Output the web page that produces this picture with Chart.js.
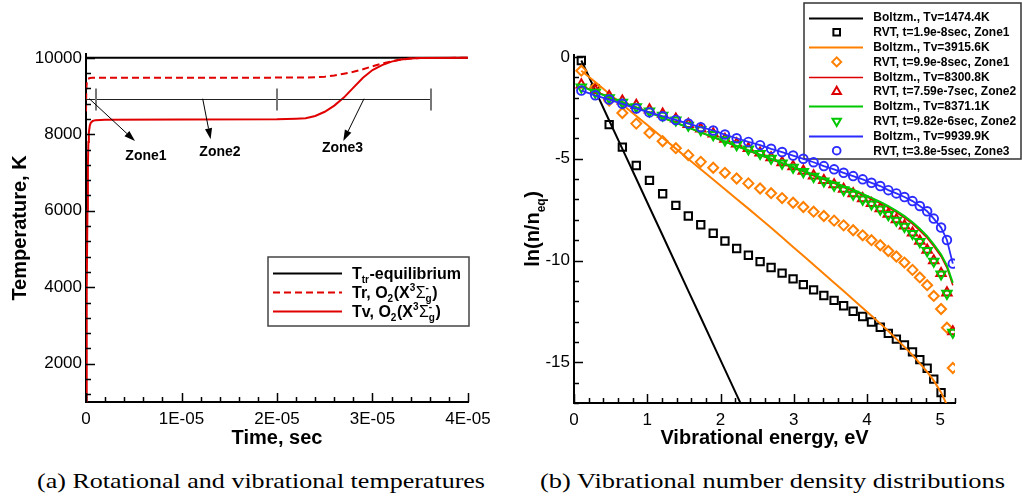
<!DOCTYPE html>
<html>
<head>
<meta charset="utf-8">
<script src="https://cdn.jsdelivr.net/npm/chart.js@4.4.0/dist/chart.umd.min.js"></script>
<style>
  body { margin: 0; background: #fff; width: 1022px; height: 498px; overflow: hidden; position: relative; }
  canvas { position: absolute; top: 0; }
  #tempChart { left: 0; }
  #distChart { left: 511px; }
  .cap { position: absolute; top: 468px; font-family: "Liberation Serif", "Times New Roman", serif; font-size: 22px;
         white-space: nowrap; transform-origin: left center; color: #000; }
</style>
</head>
<body>
<canvas id="tempChart" width="511" height="460"></canvas>
<canvas id="distChart" width="511" height="460"></canvas>
<div class="cap" id="capA">(a) Rotational and vibrational temperatures</div>
<div class="cap" id="capB">(b) Vibrational number density distributions</div>
<script>
// ---------- panel (a): temperatures vs time ----------
const eqTime = [0, 4e-5];
const eqTemp = [10000, 10000];

const trTime = [0, 2e-8, 5e-8, 1e-7, 2e-7, 4e-7, 7e-7, 1e-5, 2.3e-5, 2.5e-5, 2.6e-5, 2.7e-5, 2.8e-5, 2.9e-5,
                3.0e-5, 3.1e-5, 3.2e-5, 3.3e-5, 3.4e-5, 3.5e-5, 4e-5];
const trTemp = [8600, 9000, 9250, 9400, 9450, 9470, 9478, 9480, 9483, 9505, 9540, 9585, 9635, 9700,
                9780, 9850, 9910, 9955, 9982, 9995, 10000];

const tvTime = [0, 5e-8, 1e-7, 1.5e-7, 2e-7, 2.5e-7, 3e-7, 4e-7, 5e-7, 7e-7, 1e-6, 2e-6, 1e-5, 2e-5, 2.2e-5,
                2.3e-5, 2.4e-5, 2.5e-5, 2.6e-5, 2.7e-5, 2.8e-5, 2.9e-5, 3.0e-5, 3.1e-5, 3.2e-5, 3.3e-5,
                3.4e-5, 3.5e-5, 4e-5];
const tvTemp = [300, 1500, 4000, 6000, 7200, 7800, 8050, 8230, 8300, 8350, 8370, 8380, 8385, 8395, 8410,
                8420, 8480, 8590, 8750, 8960, 9220, 9480, 9680, 9810, 9900, 9955,
                9985, 9997, 10000];

const timeTicks = [0, 1e-5, 2e-5, 3e-5, 4e-5];
const timeTickLabels = ['0', '1E-05', '2E-05', '3E-05', '4E-05'];
const tempTicks = [2000, 4000, 6000, 8000, 10000];

// zone bar and arrow annotations (data units: seconds, K)
const zoneBarSpan = [0, 3.61e-5];
const zoneBarTemp = 8930;
const zoneMarks = [1e-6, 2.0e-5, 3.61e-5];
const zoneNames = ['Zone1', 'Zone2', 'Zone3'];
const zoneArrowFrom = [[3.5e-7, 8930], [1.222e-5, 8930], [2.911e-5, 8930]];
const zoneArrowTo = [[5.13e-6, 7824], [1.305e-5, 7869], [2.694e-5, 7824]];
const zoneLabelAt = [[6.28e-6, 7425], [1.403e-5, 7522], [2.686e-5, 7626]];

// ---------- panel (b): vibrational distributions ----------
const energy = [0.10, 0.29, 0.48, 0.66, 0.85, 1.03, 1.21, 1.39, 1.56, 1.73, 1.90, 2.06, 2.22, 2.38, 2.54,
                2.69, 2.84, 2.99, 3.13, 3.27, 3.41, 3.55, 3.68, 3.81, 3.94, 4.06, 4.18, 4.29, 4.40, 4.51,
                4.62, 4.72, 4.82, 4.91, 5.01, 5.09, 5.17];

const boltz1474 = [-0.17, -1.64, -3.12, -4.51, -5.98, -7.38, -8.77, -10.17, -11.49, -12.80, -14.12, -15.36,
                   -16.60, -17.84];
const rvt19e8 = [-0.17, -1.55, -3.32, -4.43, -5.33, -6.06, -6.72, -7.29, -7.81, -8.24, -8.66, -9.04, -9.41,
                 -9.74, -10.05, -10.34, -10.62, -10.90, -11.18, -11.44, -11.72, -11.96, -12.22, -12.49,
                 -12.75, -13.02, -13.28, -13.58, -13.86, -14.15, -14.49, -14.87, -15.29, -15.83, -16.49];
const boltz3916 = [-0.67, -1.23, -1.80, -2.33, -2.90, -3.43, -3.97, -4.50, -5.01, -5.51, -6.02, -6.50, -6.98,
                   -7.45, -7.93, -8.39, -8.86, -9.33, -9.77, -10.21, -10.65, -11.09, -11.50, -11.91, -12.33,
                   -12.71, -13.10, -13.46, -13.85, -14.24, -14.65, -15.05, -15.47, -15.90, -16.48, -17.10];
const rvt99e8 = [-0.67, -1.49, -2.14, -2.75, -3.27, -3.73, -4.14, -4.48, -4.82, -5.15, -5.44, -5.69, -5.97,
                 -6.21, -6.46, -6.69, -6.93, -7.16, -7.37, -7.60, -7.81, -8.04, -8.27, -8.51, -8.76, -9.00,
                 -9.25, -9.53, -9.80, -10.10, -10.46, -10.83, -11.21, -11.74, -12.38, -13.30, -15.28];
const boltz8301 = [-1.42, -1.69, -1.95, -2.21, -2.47, -2.72, -2.98, -3.23, -3.47, -3.71, -3.95, -4.17, -4.39,
                   -4.61, -4.83, -5.03, -5.24, -5.44, -5.63, -5.83, -6.02, -6.21, -6.40, -6.58, -6.78, -6.98,
                   -7.19, -7.40, -7.63, -7.90, -8.20, -8.53, -8.89, -9.30, -9.80, -10.36, -11.22];
const rvt759e7 = [-1.36, -1.64, -1.92, -2.15, -2.37, -2.59, -2.80, -3.04, -3.30, -3.53, -3.77, -4.03, -4.26,
                  -4.49, -4.71, -4.94, -5.18, -5.38, -5.60, -5.83, -6.06, -6.27, -6.49, -6.71, -6.95, -7.19,
                  -7.44, -7.71, -7.99, -8.29, -8.64, -9.04, -9.48, -10.00, -10.63, -11.58, -13.49];
const boltz8371 = [-1.45, -1.71, -1.98, -2.22, -2.48, -2.73, -2.98, -3.23, -3.46, -3.70, -3.93, -4.15, -4.37,
                   -4.58, -4.80, -5.00, -5.20, -5.40, -5.59, -5.78, -5.97, -6.16, -6.34, -6.52, -6.72, -6.92,
                   -7.12, -7.33, -7.56, -7.82, -8.12, -8.44, -8.80, -9.20, -9.70, -10.25, -11.10];
const rvt982e6 = [-1.48, -1.74, -2.01, -2.23, -2.45, -2.66, -2.87, -3.10, -3.36, -3.58, -3.82, -4.08, -4.31,
                  -4.53, -4.75, -4.98, -5.22, -5.42, -5.64, -5.87, -6.10, -6.31, -6.53, -6.75, -6.99, -7.23,
                  -7.48, -7.75, -8.03, -8.33, -8.68, -9.08, -9.52, -10.04, -10.67, -11.62, -13.53];
const boltz9940 = [-1.65, -1.88, -2.09, -2.30, -2.53, -2.72, -2.91, -3.09, -3.27, -3.45, -3.61, -3.81, -3.99,
                   -4.17, -4.33, -4.51, -4.67, -4.84, -5.00, -5.17, -5.36, -5.52, -5.69, -5.85, -6.01, -6.18,
                   -6.34, -6.54, -6.70, -6.88, -7.08, -7.32, -7.58, -7.94, -8.38, -8.99, -10.15];
const rvt38e5 = [-1.65, -1.88, -2.09, -2.30, -2.53, -2.72, -2.91, -3.09, -3.27, -3.45, -3.61, -3.81, -3.99,
                 -4.17, -4.33, -4.51, -4.67, -4.84, -5.00, -5.17, -5.36, -5.52, -5.69, -5.85, -6.01, -6.18,
                 -6.34, -6.54, -6.70, -6.88, -7.08, -7.32, -7.58, -7.94, -8.38, -8.99, -10.15];

const energyTicks = [0, 1, 2, 3, 4, 5];
const lnTicks = [0, -5, -10, -15];

// ---------- shared helpers ----------
const SANS = '"Liberation Sans", Arial, Helvetica, sans-serif';
const tickFont = { family: SANS, size: 17 };

function pair(xs, ys) { return ys.map((v, i) => ({ x: xs[i], y: v })); }

// Tecplot-like inward ticks, major and minor
function drawInwardTicks(chart, xMinor, yMinor) {
  const { ctx } = chart;
  const xs = chart.scales.x, ys = chart.scales.y;
  const bottom = chart.chartArea.bottom, left = chart.chartArea.left;
  ctx.save();
  ctx.strokeStyle = '#000';
  ctx.lineWidth = 1.5;
  ctx.beginPath();
  const nx = Math.round((xs.max - xs.min) / xMinor);
  for (let k = 0; k <= nx; k++) {
    const v = xs.min + k * xMinor;
    const isMajor = xs.ticks.some(t => Math.abs(t.value - v) < xMinor * 1e-3);
    const p = Math.round(xs.getPixelForValue(v)) + 0.5;
    ctx.moveTo(p, bottom);
    ctx.lineTo(p, bottom - (isMajor ? 9 : 5));
  }
  const k0 = Math.ceil(ys.min / yMinor), k1 = Math.floor(ys.max / yMinor);
  for (let k = k0; k <= k1; k++) {
    const v = k * yMinor;
    const isMajor = ys.ticks.some(t => Math.abs(t.value - v) < yMinor * 1e-3);
    const p = Math.round(ys.getPixelForValue(v)) + 0.5;
    ctx.moveTo(left, p);
    ctx.lineTo(left + (isMajor ? 9 : 5), p);
  }
  ctx.stroke();
  ctx.restore();
}

// text with subscripts / superscripts: parts = [{t}, {sub}, {sup}, {sup, sub}]
function richWidth(ctx, parts, size, weight) {
  let w = 0;
  for (const p of parts) {
    if (p.t !== undefined) { ctx.font = `${p.w || weight} ${size}px ${SANS}`; w += ctx.measureText(p.t).width; }
    else {
      ctx.font = `${weight} ${Math.round(size * 0.62)}px ${SANS}`;
      w += Math.max(p.sub ? ctx.measureText(p.sub).width : 0, p.sup ? ctx.measureText(p.sup).width : 0) + 0.5;
    }
  }
  return w;
}
function drawRich(ctx, x, y, parts, size, weight) {
  let cx = x;
  ctx.textAlign = 'left';
  ctx.textBaseline = 'alphabetic';
  for (const p of parts) {
    if (p.t !== undefined) {
      ctx.font = `${p.w || weight} ${size}px ${SANS}`;
      ctx.fillText(p.t, cx, y);
      cx += ctx.measureText(p.t).width;
    } else {
      ctx.font = `${weight} ${Math.round(size * 0.62)}px ${SANS}`;
      let w = 0;
      if (p.sup) { ctx.fillText(p.sup, cx, y - size * 0.42); w = Math.max(w, ctx.measureText(p.sup).width); }
      if (p.sub) { ctx.fillText(p.sub, cx, y + size * 0.28); w = Math.max(w, ctx.measureText(p.sub).width); }
      cx += w + 0.5;
    }
  }
}

function drawMarker(ctx, style, x, y, r, rot) {
  ctx.beginPath();
  if (style === 'rect') {
    const s = r * Math.SQRT1_2;
    ctx.rect(x - s, y - s, 2 * s, 2 * s);
  } else if (style === 'rectRot') {
    ctx.moveTo(x, y - r); ctx.lineTo(x + r, y); ctx.lineTo(x, y + r); ctx.lineTo(x - r, y); ctx.closePath();
  } else if (style === 'triangle') {
    let a = (rot || 0) * Math.PI / 180;
    for (let k = 0; k < 3; k++) {
      const px = x + Math.sin(a) * r, py = y - Math.cos(a) * r;
      if (k) ctx.lineTo(px, py); else ctx.moveTo(px, py);
      a += 2 * Math.PI / 3;
    }
    ctx.closePath();
  } else {
    ctx.arc(x, y, r, 0, Math.PI * 2);
  }
  ctx.stroke();
}

function axisOpts(ticksArr, labels, min, max, fitKey, fitSize, padding) {
  return {
    type: 'linear', min, max,
    afterBuildTicks: s => { s.ticks = ticksArr.map(v => ({ value: v })); },
    afterFit: s => { s[fitKey] = fitSize; },
    ticks: {
      font: tickFont, color: '#000', padding, maxRotation: 0, autoSkip: false,
      callback: (v, i) => labels[i]
    },
    grid: { display: false, drawTicks: false },
    border: { display: true, width: 2, color: '#000' }
  };
}

// ---------- chart (a) ----------
const tempLegend = [
  [{ t: 'T' }, { sub: 'tr' }, { t: '-equilibrium' }],
  [{ t: 'Tr, O' }, { sub: '2' }, { t: '(X' }, { sup: '3' }, { t: 'Σ', w: 'normal' }, { sup: '-', sub: 'g' }, { t: ')' }],
  [{ t: 'Tv, O' }, { sub: '2' }, { t: '(X' }, { sup: '3' }, { t: 'Σ', w: 'normal' }, { sup: '-', sub: 'g' }, { t: ')' }]
];

const tempPlugin = {
  id: 'tempDecor',
  afterDatasetsDraw(chart) {
    const { ctx } = chart;
    const xs = chart.scales.x, ys = chart.scales.y;
    const px = v => xs.getPixelForValue(v), py = v => ys.getPixelForValue(v);
    drawInwardTicks(chart, 2e-6, 400);

    // zone bar
    ctx.save();
    const yb = Math.round(py(zoneBarTemp)) + 0.5;
    ctx.strokeStyle = '#222';
    ctx.lineWidth = 1;
    ctx.beginPath();
    ctx.moveTo(px(zoneBarSpan[0]), yb);
    ctx.lineTo(px(zoneBarSpan[1]), yb);
    ctx.stroke();
    ctx.strokeStyle = '#777';
    ctx.lineWidth = 2;
    ctx.beginPath();
    zoneMarks.forEach(t => { const x = Math.round(px(t)); ctx.moveTo(x, yb - 11); ctx.lineTo(x, yb + 11); });
    ctx.stroke();

    // arrows and labels
    ctx.strokeStyle = '#000';
    ctx.fillStyle = '#000';
    ctx.lineWidth = 1;
    zoneNames.forEach((name, i) => {
      const x0 = px(zoneArrowFrom[i][0]), y0 = py(zoneArrowFrom[i][1]);
      const x1 = px(zoneArrowTo[i][0]), y1 = py(zoneArrowTo[i][1]);
      const ang = Math.atan2(y1 - y0, x1 - x0);
      const L = 11, H = 3.6;
      const bx = x1 - Math.cos(ang) * L, by = y1 - Math.sin(ang) * L;
      ctx.beginPath();
      ctx.moveTo(x0, y0); ctx.lineTo(bx, by);
      ctx.stroke();
      ctx.beginPath();
      ctx.moveTo(x1, y1);
      ctx.lineTo(bx - Math.sin(ang) * H, by + Math.cos(ang) * H);
      ctx.lineTo(bx + Math.sin(ang) * H, by - Math.cos(ang) * H);
      ctx.closePath();
      ctx.fill();
      ctx.font = `bold 14px ${SANS}`;
      ctx.textAlign = 'center';
      ctx.textBaseline = 'middle';
      ctx.fillText(name, px(zoneLabelAt[i][0]), py(zoneLabelAt[i][1]));
    });

    // legend
    const lx = 268, ly = 257, lw = 201, lh = 69;
    ctx.fillStyle = '#fff';
    ctx.fillRect(lx, ly, lw, lh);
    ctx.strokeStyle = '#444';
    ctx.lineWidth = 1.5;
    ctx.strokeRect(lx, ly, lw, lh);
    chart.data.datasets.forEach((ds, i) => {
      const y = 273 + i * 19.2;
      ctx.strokeStyle = ds.borderColor;
      ctx.lineWidth = ds.borderWidth;
      ctx.setLineDash(ds.borderDash || []);
      ctx.beginPath();
      ctx.moveTo(273, Math.round(y) + 0.5);
      ctx.lineTo(342, Math.round(y) + 0.5);
      ctx.stroke();
      ctx.setLineDash([]);
      ctx.fillStyle = '#000';
      drawRich(ctx, 352, y + 5.5, tempLegend[i], 16, 'bold');
    });
    ctx.restore();
  },
  afterDraw(chart) {
    const { ctx, chartArea: a } = chart;
    ctx.save();
    ctx.fillStyle = '#000';
    ctx.font = `bold 20px ${SANS}`;
    ctx.textAlign = 'center';
    ctx.textBaseline = 'alphabetic';
    ctx.fillText('Time, sec', (a.left + a.right) / 2, 444);
    ctx.translate(26, (a.top + a.bottom) / 2);
    ctx.rotate(-Math.PI / 2);
    ctx.fillText('Temperature, K', 0, 0);
    ctx.restore();
  }
};

new Chart(document.getElementById('tempChart'), {
  type: 'scatter',
  data: {
    datasets: [
      { label: 'Ttr-equilibrium', data: pair(eqTime, eqTemp), showLine: true, pointRadius: 0,
        borderColor: '#000', borderWidth: 2, order: 0 },
      { label: 'Tr, O2(X3Sg-)', data: pair(trTime, trTemp), showLine: true, pointRadius: 0,
        borderColor: '#e00000', borderWidth: 2, borderDash: [7, 4], order: -1 },
      { label: 'Tv, O2(X3Sg-)', data: pair(tvTime, tvTemp), showLine: true, pointRadius: 0,
        borderColor: '#e00000', borderWidth: 2, order: -2 }
    ]
  },
  options: {
    responsive: false, animation: false, devicePixelRatio: 1,
    layout: { padding: { left: 0, top: 54, right: 43, bottom: 0 } },
    plugins: { legend: { display: false }, tooltip: { enabled: false } },
    scales: {
      x: axisOpts(timeTicks, timeTickLabels, 0, 4e-5, 'height', 58, 7),
      y: axisOpts(tempTicks, tempTicks.map(String), 1000, 10100, 'width', 86, 4)
    }
  },
  plugins: [tempPlugin]
});

// ---------- chart (b) ----------
const distPlugin = {
  id: 'distDecor',
  beforeDatasetsDraw(chart) {
    const { ctx } = chart;
    const lx = 293, ly = 3, lw = 217, lh = 156;
    ctx.save();
    ctx.strokeStyle = '#333';
    ctx.lineWidth = 1.5;
    ctx.strokeRect(lx, ly, lw, lh);
    chart.data.datasets.forEach((ds, i) => {
      const y = 17.5 + i * 14.8;
      if (ds.showLine) {
        ctx.strokeStyle = ds.borderColor;
        ctx.lineWidth = ds.borderWidth;
        ctx.beginPath();
        ctx.moveTo(298, Math.round(y) + 0.5);
        ctx.lineTo(352, Math.round(y) + 0.5);
        ctx.stroke();
      } else {
        ctx.strokeStyle = ds.pointBorderColor;
        ctx.lineWidth = ds.pointBorderWidth;
        drawMarker(ctx, ds.pointStyle, 325.7, y, ds.pointRadius * 0.9, ds.pointRotation);
      }
      ctx.fillStyle = '#000';
      ctx.font = `bold 12px ${SANS}`;
      ctx.textAlign = 'left';
      ctx.textBaseline = 'middle';
      ctx.fillText(ds.label, 362.3, y + 0.5);
    });
    ctx.restore();
  },
  afterDatasetsDraw(chart) {
    drawInwardTicks(chart, 0.2, 1);
  },
  afterDraw(chart) {
    const { ctx, chartArea: a } = chart;
    ctx.save();
    ctx.fillStyle = '#000';
    ctx.font = `bold 20px ${SANS}`;
    ctx.textAlign = 'center';
    ctx.textBaseline = 'alphabetic';
    ctx.fillText('Vibrational energy, eV', (a.left + a.right) / 2, 444);
    const parts = [{ t: 'ln(n/n' }, { sub: 'eq' }, { t: ')' }];
    const w = richWidth(ctx, parts, 20, 'bold');
    ctx.translate(28, (a.top + a.bottom) / 2);
    ctx.rotate(-Math.PI / 2);
    drawRich(ctx, -w / 2, 0, parts, 20, 'bold');
    ctx.restore();
  }
};

const ORANGE = '#ff8000', RED = '#dd0000', GREEN = '#00c800', BLUE = '#2b2bff';
function lineSet(label, vals, color, width) {
  return { label, data: pair(energy, vals), showLine: true, pointRadius: 0, borderColor: color, borderWidth: width };
}
function markSet(label, vals, color, style, r, bw, rot) {
  return { label, data: pair(energy, vals), showLine: false, pointStyle: style, pointRadius: r,
           pointRotation: rot || 0, pointBorderColor: color, pointBackgroundColor: 'rgba(0,0,0,0)',
           pointBorderWidth: bw, pointHoverRadius: r };
}
const distSets = [
  lineSet('Boltzm., Tv=1474.4K', boltz1474, '#000', 2),
  markSet('RVT, t=1.9e-8sec, Zone1', rvt19e8, '#000', 'rect', 5.2, 2),
  lineSet('Boltzm., Tv=3915.6K', boltz3916, ORANGE, 2),
  markSet('RVT, t=9.9e-8sec, Zone1', rvt99e8, ORANGE, 'rectRot', 5, 2),
  lineSet('Boltzm., Tv=8300.8K', boltz8301, RED, 1.5),
  markSet('RVT, t=7.59e-7sec, Zone2', rvt759e7, RED, 'triangle', 5.4, 2),
  lineSet('Boltzm., Tv=8371.1K', boltz8371, GREEN, 2),
  markSet('RVT, t=9.82e-6sec, Zone2', rvt982e6, GREEN, 'triangle', 5.4, 2, 180),
  lineSet('Boltzm., Tv=9939.9K', boltz9940, BLUE, 1.8),
  markSet('RVT, t=3.8e-5sec, Zone3', rvt38e5, BLUE, 'circle', 4.3, 1.9)
];
distSets.forEach((ds, i) => { ds.order = -i; });

new Chart(document.getElementById('distChart'), {
  type: 'scatter',
  data: { datasets: distSets },
  options: {
    responsive: false, animation: false, devicePixelRatio: 1,
    layout: { padding: { left: 0, top: 55, right: 67, bottom: 0 } },
    plugins: { legend: { display: false }, tooltip: { enabled: false } },
    scales: {
      x: axisOpts(energyTicks, energyTicks.map(String), 0, 5.2, 'height', 57, 7),
      y: axisOpts(lnTicks, lnTicks.map(String), -17, 0.1, 'width', 63, 4)
    }
  },
  plugins: [distPlugin]
});

// ---------- captions ----------
function fitCaption(id, left, width) {
  const el = document.getElementById(id);
  el.style.left = left + 'px';
  const w = el.getBoundingClientRect().width;
  el.style.transform = `scaleX(${width / w})`;
}
fitCaption('capA', 37, 448);
fitCaption('capB', 540, 465);
</script>
</body>
</html>
